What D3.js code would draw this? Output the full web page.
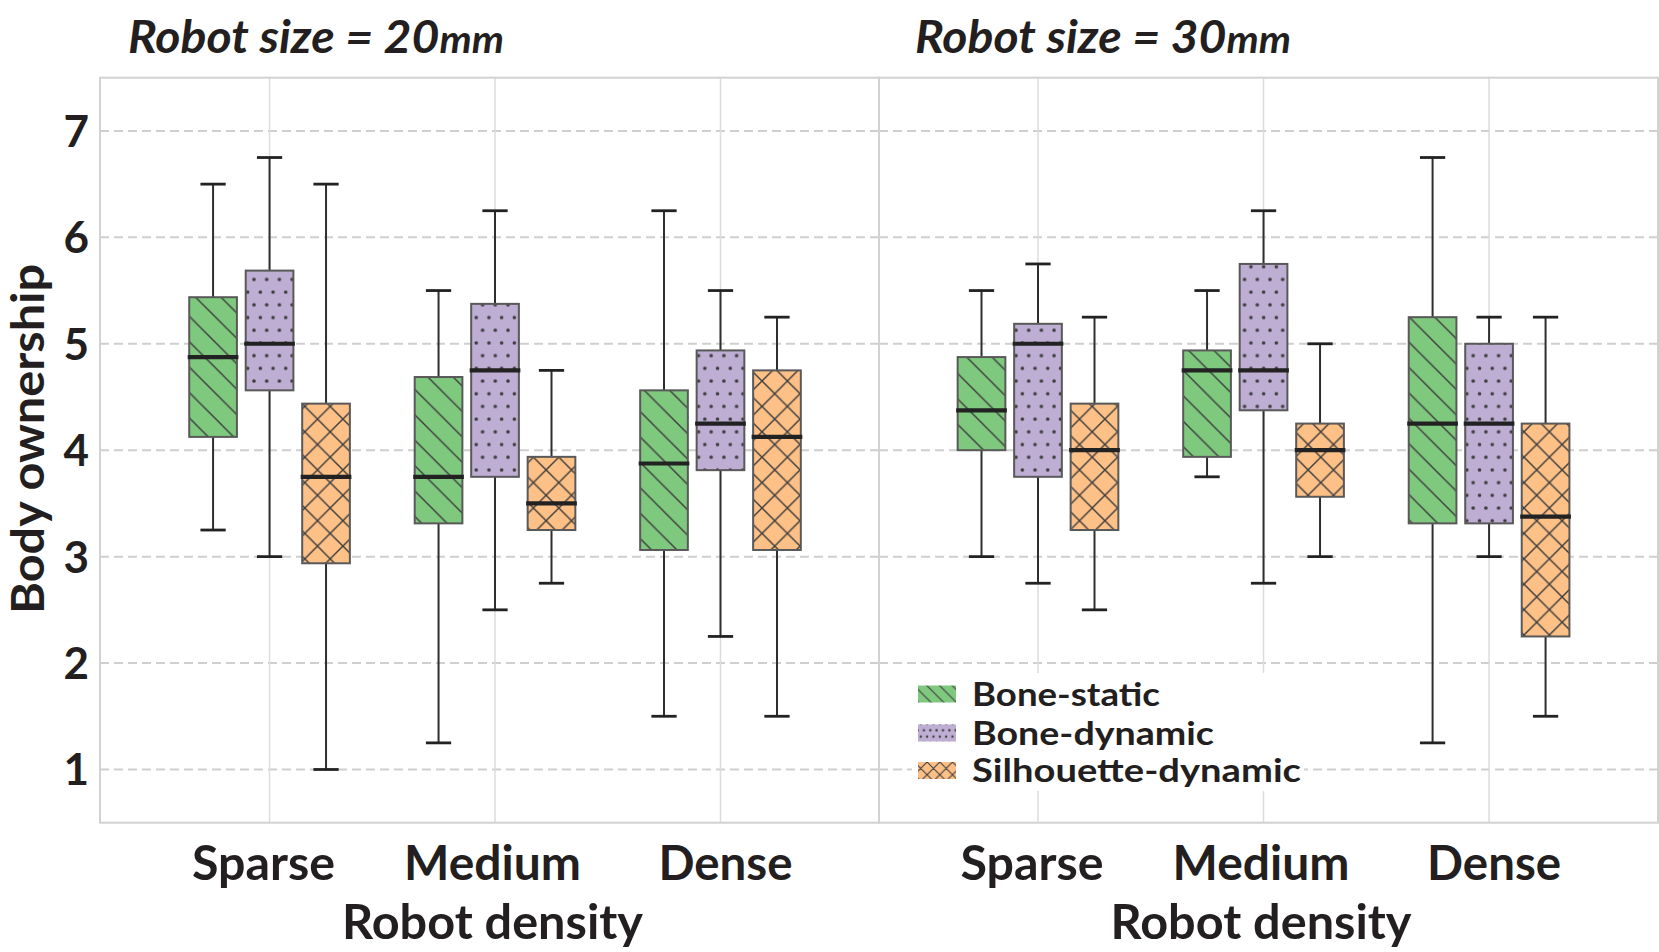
<!DOCTYPE html>
<html><head><meta charset="utf-8">
<script src="https://cdn.jsdelivr.net/npm/d3@7"></script>
<style>html,body{margin:0;padding:0;background:#fff} svg{display:block}</style>
</head><body>
<svg id="chart" width="1659" height="952"></svg>
<script>
// ---------- data ----------
const categories = ["Sparse", "Medium", "Dense"];
const robotSizes = ["20", "30"];
const seriesNames = ["Bone-static", "Bone-dynamic", "Silhouette-dynamic"];
const yTicks = [1, 2, 3, 4, 5, 6, 7];
// five-number summaries per category: [whisker low, Q1, median, Q3, whisker high]
const boneStatic20  = [[3.25, 4.125, 4.875, 5.4375, 6.5], [1.25, 3.3125, 3.75, 4.6875, 5.5], [1.5, 3.0625, 3.875, 4.5625, 6.25]];
const boneDynamic20 = [[3.0, 4.5625, 5.0, 5.6875, 6.75], [2.5, 3.75, 4.75, 5.375, 6.25], [2.25, 3.8125, 4.25, 4.9375, 5.5]];
const silhouette20  = [[1.0, 2.9375, 3.75, 4.4375, 6.5], [2.75, 3.25, 3.5, 3.9375, 4.75], [1.5, 3.0625, 4.125, 4.75, 5.25]];
const boneStatic30  = [[3.0, 4.0, 4.375, 4.875, 5.5], [3.75, 3.9375, 4.75, 4.9375, 5.5], [1.25, 3.3125, 4.25, 5.25, 6.75]];
const boneDynamic30 = [[2.75, 3.75, 5.0, 5.1875, 5.75], [2.75, 4.375, 4.75, 5.75, 6.25], [3.0, 3.3125, 4.25, 5.0, 5.25]];
const silhouette30  = [[2.5, 3.25, 4.0, 4.4375, 5.25], [3.0, 3.5625, 4.0, 4.25, 5.0], [1.5, 2.25, 3.375, 4.25, 5.25]];
const panelData = [[boneStatic20, boneDynamic20, silhouette20], [boneStatic30, boneDynamic30, silhouette30]];

// ---------- styling / layout ----------
const colors = ["#7fc97f", "#beaed4", "#fdc086"];
const patternKinds = ["diag", "dots", "cross"];
const FONT = "Lato, 'Open Sans', sans-serif";
const plotTop = 77.7, plotBottom = 822.7;
const panelRanges = [[100, 879], [879, 1658]];
const panelDomains = [[-0.752, 2.703], [-0.705, 2.749]];
const seriesOffset = 0.2505, boxW = 0.2115, capW = 0.224;
const labelNudge = [-6, -2.5, 5];

const svg = d3.select("#chart");
const y = d3.scaleLinear().domain([0.5, 7.5]).range([plotBottom, plotTop]);

// ---------- patterns ----------
const defs = svg.append("defs");
function makePattern(id, kind, fill, s, lw, r) {
  const p = defs.append("pattern").attr("id", id).attr("patternUnits", "userSpaceOnUse");
  const hatch = "#3d3d3d";
  if (kind === "dots") {
    p.attr("width", s).attr("height", 2 * s);
    p.append("rect").attr("width", s).attr("height", 2 * s).attr("fill", fill);
    [[0, 0], [s, 0], [0, 2 * s], [s, 2 * s], [s / 2, s]].forEach(([cx, cy]) =>
      p.append("circle").attr("cx", cx).attr("cy", cy).attr("r", r).attr("fill", hatch));
  } else {
    p.attr("width", s).attr("height", s);
    p.append("rect").attr("width", s).attr("height", s).attr("fill", fill);
    let d = `M0,0L${s},${s}M${-s/2},${s/2}L${s/2},${3*s/2}M${s/2},${-s/2}L${3*s/2},${s/2}`;
    if (kind === "cross") d += `M0,${s}L${s},0M${-s/2},${s/2}L${s/2},${-s/2}M${s/2},${3*s/2}L${3*s/2},${s/2}`;
    p.append("path").attr("d", d).attr("stroke", hatch).attr("stroke-width", lw).attr("fill", "none");
  }
}
patternKinds.forEach((k, i) => {
  makePattern("pat" + i, k, colors[i], k === "dots" ? 12.7 : 25.4, 1.4, 1.8);
  makePattern("leg" + i, k, colors[i], k === "dots" ? 6.35 : 12.7, 1.1, 1.2);
});

// ---------- panels ----------
panelRanges.forEach((range, pi) => {
  const x = d3.scaleLinear().domain(panelDomains[pi]).range(range);
  const g = svg.append("g");
  g.selectAll("line.hg").data(yTicks).join("line")
    .attr("x1", range[0]).attr("x2", range[1])
    .attr("y1", d => y(d)).attr("y2", d => y(d))
    .attr("stroke", "#cfcfcf").attr("stroke-width", 2).attr("stroke-dasharray", "9,5");
  g.selectAll("line.vg").data(categories).join("line")
    .attr("x1", (d, i) => x(i)).attr("x2", (d, i) => x(i))
    .attr("y1", plotTop).attr("y2", plotBottom)
    .attr("stroke", "#dcdcdc").attr("stroke-width", 1.5);
  g.append("rect").attr("x", range[0]).attr("y", plotTop)
    .attr("width", range[1] - range[0]).attr("height", plotBottom - plotTop)
    .attr("fill", "none").attr("stroke", "#d2d2d2").attr("stroke-width", 2);

  panelData[pi].forEach((series, si) => {
    series.forEach((st, ci) => {
      const [lo, q1, med, q3, hi] = st;
      const c = ci + (si - 1) * seriesOffset;
      const cx = x(c), x0 = x(c - boxW / 2), x1 = x(c + boxW / 2);
      const bg = g.append("g");
      bg.append("line").attr("x1", cx).attr("x2", cx).attr("y1", y(hi)).attr("y2", y(q3))
        .attr("stroke", "#2e2e2e").attr("stroke-width", 2);
      bg.append("line").attr("x1", cx).attr("x2", cx).attr("y1", y(q1)).attr("y2", y(lo))
        .attr("stroke", "#2e2e2e").attr("stroke-width", 2);
      [lo, hi].forEach(v => bg.append("line")
        .attr("x1", x(c - capW / 4)).attr("x2", x(c + capW / 4))
        .attr("y1", y(v)).attr("y2", y(v))
        .attr("stroke", "#222").attr("stroke-width", 2.8));
      bg.append("rect").attr("x", x0).attr("y", y(q3))
        .attr("width", x1 - x0).attr("height", y(q1) - y(q3))
        .attr("fill", `url(#pat${si})`).attr("stroke", "#595959").attr("stroke-width", 2);
      bg.append("line").attr("x1", x0 - 1.5).attr("x2", x1 + 1.5)
        .attr("y1", y(med)).attr("y2", y(med))
        .attr("stroke", "#222").attr("stroke-width", 4.2);
    });
  });

  g.selectAll("text.cat").data(categories).join("text")
    .attr("x", (d, i) => x(i) + labelNudge[i]).attr("y", 880)
    .attr("text-anchor", "middle")
    .attr("font-family", FONT).attr("font-weight", 700).attr("font-size", 48)
    .attr("fill", "#231f20")
    .attr("textLength", d => ({Sparse: 143, Medium: 177, Dense: 134})[d])
    .attr("lengthAdjust", "spacingAndGlyphs")
    .text(d => d);
  g.append("text").attr("x", x(1) + labelNudge[1]).attr("y", 939).attr("text-anchor", "middle")
    .attr("font-family", FONT).attr("font-weight", 700).attr("font-size", 48)
    .attr("fill", "#231f20").attr("textLength", 301).attr("lengthAdjust", "spacingAndGlyphs")
    .text("Robot density");
  const t = g.append("text").attr("x", pi === 0 ? 128 : 915).attr("y", 53)
    .attr("font-family", FONT).attr("font-weight", 700).attr("font-style", "italic")
    .attr("font-size", 45).attr("fill", "#231f20")
    .attr("textLength", 376).attr("lengthAdjust", "spacingAndGlyphs");
  t.append("tspan").text(`Robot size = ${robotSizes[pi]}`);
  t.append("tspan").attr("font-size", 38).text("mm");
});

svg.selectAll("text.yt").data(yTicks).join("text")
  .attr("x", 89).attr("y", d => y(d) + 16)
  .attr("text-anchor", "end")
  .attr("font-family", FONT).attr("font-weight", 700).attr("font-size", 44)
  .attr("fill", "#231f20").text(d => d);
svg.append("text").attr("transform", `translate(44,${439}) rotate(-90)`)
  .attr("text-anchor", "middle")
  .attr("font-family", FONT).attr("font-weight", 700).attr("font-size", 46)
  .attr("fill", "#231f20").attr("textLength", 350).attr("lengthAdjust", "spacingAndGlyphs")
  .text("Body ownership");

const leg = svg.append("g");
leg.append("rect").attr("x", 912).attr("y", 673).attr("width", 392).attr("height", 118).attr("fill", "#fff");
const legRows = [694, 733, 770.5];
const legWidths = [188, 242, 329];
seriesNames.forEach((name, i) => {
  leg.append("rect").attr("x", 918).attr("y", legRows[i] - 8.5).attr("width", 38).attr("height", 17)
    .attr("fill", `url(#leg${i})`);
  leg.append("text").attr("x", 972).attr("y", legRows[i] + 11.5)
    .attr("font-family", FONT).attr("font-weight", 700).attr("font-size", 32)
    .attr("fill", "#231f20").attr("textLength", legWidths[i]).attr("lengthAdjust", "spacingAndGlyphs")
    .text(name);
});
</script>
</body></html>
